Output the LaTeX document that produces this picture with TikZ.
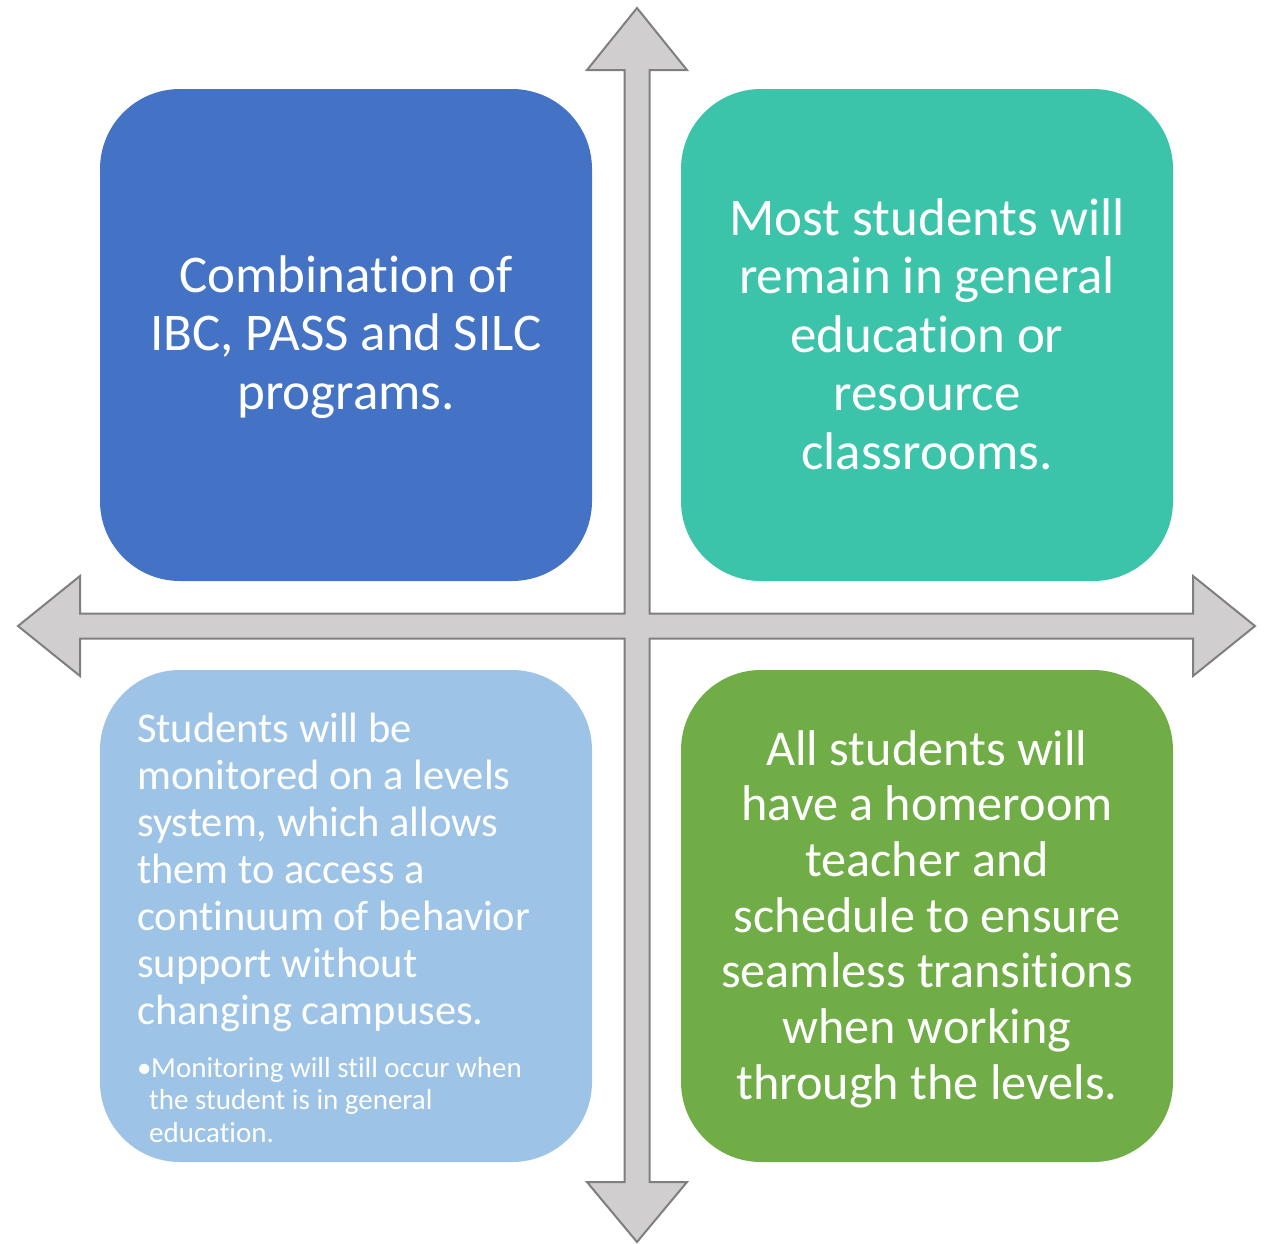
\documentclass[tikz,border=0pt]{standalone}
\usepackage{fontspec}
\setmainfont{Carlito}[Ligatures=NoCommon]
\definecolor{boxblue}{HTML}{4472C4}
\definecolor{boxteal}{HTML}{3BC4A9}
\definecolor{boxsky}{HTML}{9DC3E6}
\definecolor{boxgreen}{HTML}{70AD47}
\definecolor{crossfill}{HTML}{D0CECE}
\definecolor{crossline}{HTML}{7F7F7F}
\begin{document}
\begin{tikzpicture}[x=1pt,y=-1pt,
  quad/.style={rounded corners=80pt, minimum width=492pt, minimum height=492pt,
    inner sep=0pt, outer sep=0pt, anchor=north west},
  bigtext/.style={text=white, align=flush center, text width=480pt,
    font=\fontsize{53}{58.5}\selectfont},
  crossarrow/.style={fill=crossfill, draw=crossline, line width=2pt, line join=miter}]
\useasboundingbox (0,0) rectangle (1266,1243);
% four-way arrow cross
\draw[crossarrow] (637,8) -- (687,70) -- (649.5,70) -- (649.5,613.5) -- (1193,613.5)
  -- (1193,576) -- (1255,626) -- (1193,676) -- (1193,638.5) -- (649.5,638.5)
  -- (649.5,1182) -- (687,1182) -- (637,1242) -- (587,1182) -- (624.5,1182)
  -- (624.5,638.5) -- (80,638.5) -- (80,676) -- (18,626) -- (80,576) -- (80,613.5)
  -- (624.5,613.5) -- (624.5,70) -- (587,70) -- cycle;
% quadrant boxes
\node[quad, fill=boxblue] (tl) at (100,89) {};
\node[quad, fill=boxteal] (tr) at (681,89) {};
\node[quad, fill=boxsky] (bl) at (100,670) {};
\node[quad, fill=boxgreen] (br) at (681,670) {};
% box texts
\node[bigtext] (tltext) at ([yshift=-2pt]tl.center) {Combination of\\IBC, PASS and SILC\\programs.};
\node[bigtext] (trtext) at ([yshift=1pt]tr.center) {Most students will\\remain in general\\education or\\resource\\classrooms.};
\node[bigtext, font=\fontsize{50.2}{55.7}\selectfont] (brtext) at ([yshift=-3pt]br.center)
  {All students will\\have a homeroom\\teacher and\\schedule to ensure\\seamless transitions\\when working\\through the levels.};
\node[text=white, align=left, anchor=north west, inner sep=0pt,
  font=\fontsize{42.5}{47}\selectfont] (bltext) at (137,713)
  {Students will be\\monitored on a levels\\system, which allows\\them to access a\\continuum of behavior\\support without\\changing campuses.};
\node[text=white, align=left, anchor=north west, inner sep=0pt,
  font=\fontsize{29}{32.5}\selectfont] (blsub) at (137,1057)
  {\makebox[14pt][l]{•}Monitoring will still occur when\\\hspace*{12pt}the student is in general\\\hspace*{12pt}education.};
\end{tikzpicture}
\end{document}
